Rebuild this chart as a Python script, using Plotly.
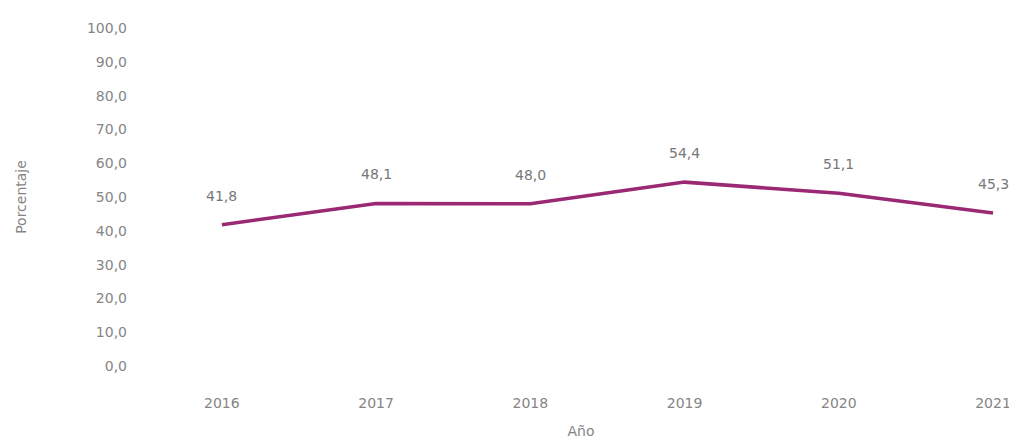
import plotly.graph_objects as go

years = [2016, 2017, 2018, 2019, 2020, 2021]
values = [41.8, 48.1, 48.0, 54.4, 51.1, 45.3]
y_ticks = [0, 10, 20, 30, 40, 50, 60, 70, 80, 90, 100]

gray = "#858585"
font_family = "DejaVu Sans, Liberation Sans, Arial"
fig = go.Figure()
fig.add_trace(go.Scatter(
    x=years, y=values, mode="lines",
    line=dict(color="#9a2873", width=3.5),
    hoverinfo="skip", showlegend=False,
))
for x, v in zip(years, values):
    fig.add_annotation(
        x=x, y=v, text=f"{v:.1f}".replace(".", ","),
        showarrow=False, yshift=29,
        font=dict(family=font_family, size=14, color="#777777"),
    )

# page body has an 8px default margin; margins compensate for it
fig.update_layout(
    width=1017, height=441,
    margin=dict(l=142, r=15, t=20, b=82),
    paper_bgcolor="white", plot_bgcolor="white",
    separators=",.",
    font=dict(family=font_family, size=14, color=gray),
    xaxis=dict(
        range=[2015.547, 2021.11], tickmode="array", tickvals=years,
        ticktext=[str(y) for y in years],
        showgrid=False, zeroline=False, showline=False,
        ticklabelstandoff=27,
        title=dict(text="Año", standoff=16, font=dict(size=14, color=gray)),
    ),
    yaxis=dict(
        range=[0, 100], tickmode="array", tickvals=y_ticks, tickformat=".1f",
        showgrid=False, zeroline=False, showline=False,
        ticklabelstandoff=24,
        title=dict(text="Porcentaje", standoff=57, font=dict(size=14, color=gray)),
    ),
)
fig.write_html("out.html")
